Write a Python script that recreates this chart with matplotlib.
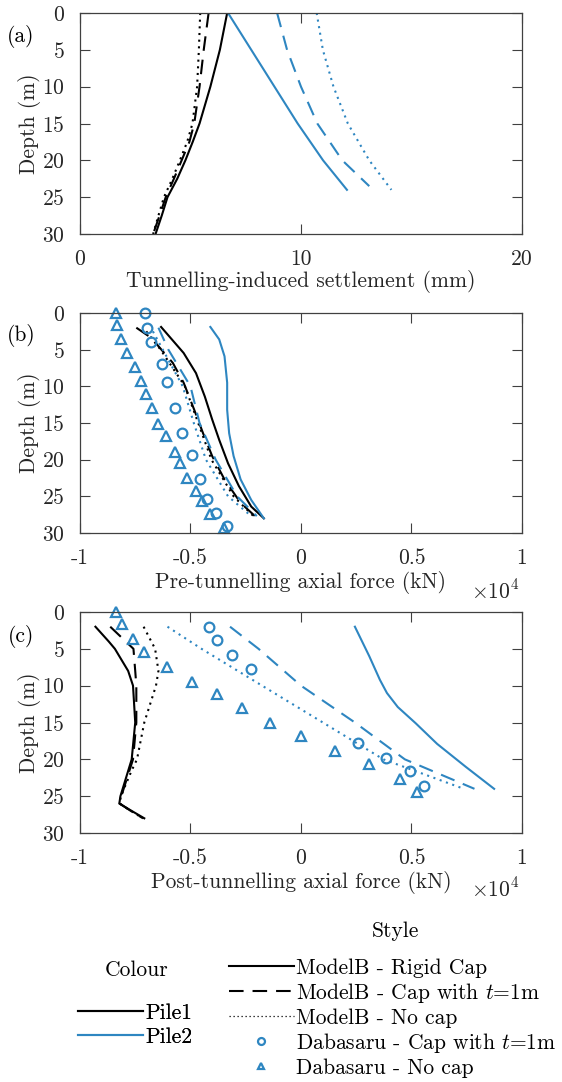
import numpy as np
import matplotlib
matplotlib.use('Agg')
from matplotlib import pyplot as plt
from matplotlib.lines import Line2D
from matplotlib.ticker import FuncFormatter

plt.rcParams['font.family'] = ['cmr10']
plt.rcParams['mathtext.fontset'] = 'cm'
plt.rcParams['axes.unicode_minus'] = False
plt.rcParams['axes.formatter.use_mathtext'] = True
FS = 15.5
plt.rcParams['font.size'] = FS

BLUE = '#2e86c1'
BLACK = 'black'
GREY = '#404040'
TXT = '#262626'

# ---- (a) settlement, mm ----
d_a1 = [0, 5, 10, 15, 17.5, 20, 22.5, 25, 27.5, 30]
set_rigid1 = [6.66, 6.33, 5.9, 5.41, 5.1, 4.77, 4.4, 3.96, 3.7, 3.42]
set_cap1 = [5.82, 5.6, 5.41, 5.17, 4.95, 4.6, 4.25, 3.88, 3.6, 3.31]
set_nocap1 = [5.44, 5.38, 5.3, 5.09, 4.85, 4.52, 4.18, 3.8, 3.55, 3.31]
d_a2 = [0, 5, 10, 15, 20, 24]
d_a2c = [0, 5, 10, 15, 20, 23.5]
set_rigid2 = [6.7, 7.75, 8.8, 9.85, 11.0, 12.08]
set_cap2 = [8.92, 9.37, 10.0, 10.74, 11.87, 13.09]
set_nocap2 = [10.71, 10.99, 11.47, 12.12, 13.09, 14.09]

# ---- (b) pre-tunnelling axial force, kN ----
d_b_rigid1 = [1.9, 5.45, 8.2, 11.4, 14.5, 17.3, 20.5, 23.6, 26.4, 28]
pre_rigid1 = [-6330, -5310, -4750, -4350, -4020, -3700, -3300, -2810, -2250, -1680]
d_b_cap1 = [2, 3.4, 6.8, 9.5, 13.2, 16.4, 19.5, 22.7, 25.9, 27.7]
pre_cap1 = [-7450, -6770, -5800, -5310, -4830, -4430, -4020, -3460, -2730, -2080]
d_b_nocap1 = [2.5, 5, 10, 15, 20, 25, 27.7]
pre_nocap1 = [-7000, -6350, -5250, -4650, -4050, -3050, -2150]
d_b_rigid2 = [1.9, 3.6, 5.9, 9.5, 13.2, 16.4, 19.5, 22.7, 25.5, 28]
pre_rigid2 = [-4100, -3700, -3460, -3340, -3340, -3250, -3050, -2730, -2250, -1680]
d_b_cap2 = [2, 5, 10, 15, 20, 25, 27.7]
pre_cap2 = [-6450, -6000, -5000, -4590, -3860, -2890, -2000]
d_b_nocap2 = [2.5, 5, 10, 15, 20, 25, 27.7]
pre_nocap2 = [-6700, -6250, -5350, -4850, -4300, -3300, -2250]
d_b_circ = [0, 2.0, 4.0, 7.0, 9.4, 12.9, 16.4, 19.3, 22.7, 25.3, 27.3, 29.1]
pre_circ = [-7060, -6960, -6770, -6280, -6070, -5720, -5400, -4930, -4560, -4230, -3860, -3340]
d_b_tri = [0, 1.7, 3.6, 5.4, 7.4, 9.3, 11.0, 13.0, 15.1, 16.8, 18.9, 20.5, 22.5, 24.3, 25.6, 27.4, 29.3]
pre_tri = [-8380, -8340, -8140, -7870, -7530, -7250, -7010, -6720, -6450, -6090, -5720, -5480,
           -5150, -4750, -4480, -4100, -3500]

# ---- (c) post-tunnelling axial force, kN ----
d_c_rigid1 = [2, 4, 5, 8, 10, 15, 20, 25, 26, 27, 28]
post_rigid1 = [-9300, -8700, -8420, -7820, -7600, -7500, -7660, -8170, -8220, -7660, -7090]
d_c_cap1 = [2, 5, 8, 10, 15, 20, 25, 26, 27, 28]
post_cap1 = [-8630, -7580, -7500, -7450, -7450, -7600, -8130, -8200, -7700, -7150]
d_c_nocap1 = [2, 5, 8, 10, 15, 20, 21.5, 25, 26, 27, 28]
post_nocap1 = [-7120, -6600, -6450, -6560, -7090, -7420, -7660, -8150, -8200, -7700, -7150]
d_c_rigid2 = [2, 6, 9.2, 11, 12.9, 15.1, 17.9, 21, 24]
post_rigid2 = [2440, 3090, 3570, 3890, 4380, 5190, 6160, 7450, 8740]
d_c_cap2 = [2, 5, 10, 15, 20, 24]
post_cap2 = [-3210, -1920, 0, 2440, 4700, 7850]
d_c_nocap2 = [2, 5, 10, 15, 20, 24]
post_nocap2 = [-6040, -4500, -1760, 990, 3730, 7370]
d_c_circ = [2.0, 3.8, 5.8, 7.8, 17.8, 19.8, 21.6, 23.6]
post_circ = [-4180, -3810, -3130, -2250, 2570, 3860, 4940, 5560]
d_c_tri = [0, 1.6, 3.6, 5.4, 7.5, 9.5, 11.1, 13.0, 15.0, 16.8, 18.9, 20.6, 22.6, 24.4]
post_tri = [-8380, -8110, -7620, -7120, -6070, -4910, -3810, -2680, -1410, 0, 1520, 3090, 4500, 5270]

DASH = (0, (7, 4.3))
DOT = (0, (1, 2.2))
LW = 1.5


def style_axes(ax, xlim, xticks, fmt):
    ax.set_xlim(*xlim)
    ax.set_ylim(30, 0)
    ax.set_xticks(xticks)
    ax.set_yticks(range(0, 31, 5))
    ax.xaxis.set_major_formatter(FuncFormatter(fmt))
    ax.tick_params(direction='in', length=7, width=0.8, top=True, right=True,
                   colors=GREY, labelcolor=TXT, labelsize=FS, pad=11)
    for s in ax.spines.values():
        s.set_color(GREY)
        s.set_linewidth(0.9)
    ax.set_ylabel('Depth (m)', color=TXT, labelpad=1)


fig = plt.figure(figsize=(5.62, 10.82), dpi=100)
axa = fig.add_axes([0.1423, 0.7837, 0.7865, 0.2043])
axb = fig.add_axes([0.1423, 0.5074, 0.7865, 0.2033])
axc = fig.add_axes([0.1423, 0.2301, 0.7865, 0.2043])

# (a)
axa.plot(set_rigid1, d_a1, color=BLACK, lw=LW)
axa.plot(set_cap1, d_a1, color=BLACK, lw=LW, ls=DASH)
axa.plot(set_nocap1, d_a1, color=BLACK, lw=LW, ls=DOT)
axa.plot(set_rigid2, d_a2, color=BLUE, lw=LW)
axa.plot(set_cap2, d_a2c, color=BLUE, lw=LW, ls=DASH)
axa.plot(set_nocap2, d_a2, color=BLUE, lw=LW, ls=DOT)
style_axes(axa, (0, 20), [0, 10, 20], lambda v, p: '%g' % v)
axa.set_xlabel('Tunnelling-induced settlement (mm)', color=TXT, labelpad=1)

mk = dict(ls='none', color=BLUE, mfc='none', mew=1.6, ms=7, clip_on=False)

# (b)
axb.plot(pre_rigid1, d_b_rigid1, color=BLACK, lw=LW)
axb.plot(pre_cap1, d_b_cap1, color=BLACK, lw=LW, ls=DASH)
axb.plot(pre_nocap1, d_b_nocap1, color=BLACK, lw=LW, ls=DOT)
axb.plot(pre_rigid2, d_b_rigid2, color=BLUE, lw=LW)
axb.plot(pre_cap2, d_b_cap2, color=BLUE, lw=LW, ls=DASH)
axb.plot(pre_nocap2, d_b_nocap2, color=BLUE, lw=LW, ls=DOT)
axb.plot(pre_circ, d_b_circ, marker='o', **mk)
axb.plot(pre_tri, d_b_tri, marker='^', **mk)
style_axes(axb, (-1e4, 1e4), [-1e4, -5e3, 0, 5e3, 1e4], lambda v, p: '%g' % (v / 1e4))
axb.set_xlabel('Pre-tunnelling axial force (kN)', color=TXT, labelpad=2)
axb.text(0.995, -0.26, r'$\times10^4$', transform=axb.transAxes, ha='right', va='center',
         color=TXT, fontsize=FS)

# (c)
axc.plot(post_rigid1, d_c_rigid1, color=BLACK, lw=LW)
axc.plot(post_cap1, d_c_cap1, color=BLACK, lw=LW, ls=DASH)
axc.plot(post_nocap1, d_c_nocap1, color=BLACK, lw=LW, ls=DOT)
axc.plot(post_rigid2, d_c_rigid2, color=BLUE, lw=LW)
axc.plot(post_cap2, d_c_cap2, color=BLUE, lw=LW, ls=DASH)
axc.plot(post_nocap2, d_c_nocap2, color=BLUE, lw=LW, ls=DOT)
axc.plot(post_circ, d_c_circ, marker='o', **mk)
axc.plot(post_tri, d_c_tri, marker='^', **mk)
style_axes(axc, (-1e4, 1e4), [-1e4, -5e3, 0, 5e3, 1e4], lambda v, p: '%g' % (v / 1e4))
axc.set_xlabel('Post-tunnelling axial force (kN)', color=TXT, labelpad=2)
axc.text(0.995, -0.25, r'$\times10^4$', transform=axc.transAxes, ha='right', va='center',
         color=TXT, fontsize=FS)

for lab, y in [('(a)', 37), ('(b)', 336), ('(c)', 636)]:
    fig.text(21 / 562, 1 - y / 1082, lab, ha='center', va='center', fontsize=FS)

# legends (titles as separate text, extra gap under them like the original)
fig.text(137 / 562, 1 - 970 / 1082, 'Colour', ha='center', va='center', fontsize=FS)
fig.text(395 / 562, 1 - 931 / 1082, 'Style', ha='center', va='center', fontsize=FS)

colour_h = [Line2D([], [], color=BLACK, lw=LW), Line2D([], [], color=BLUE, lw=LW)]
leg1 = fig.legend(colour_h, ['Pile1', 'Pile2'], frameon=False,
                  loc='center left', bbox_to_anchor=(78 / 562, 1 - 1025 / 1082),
                  handlelength=3.0, handletextpad=0.12, labelspacing=0.22, fontsize=FS,
                  borderpad=0, borderaxespad=0)
style_h = [Line2D([], [], color=BLACK, lw=LW),
           Line2D([], [], color=BLACK, lw=LW, ls=DASH),
           Line2D([], [], color=BLACK, lw=0.9, ls=DOT),
           Line2D([], [], marker='o', ls='none', color=BLUE, mfc='none', mew=1.6, ms=5),
           Line2D([], [], marker='^', ls='none', color=BLUE, mfc='none', mew=1.6, ms=5)]
style_l = ['ModelB - Rigid Cap', r'ModelB - Cap with $t$=1m', 'ModelB - No cap',
           r'Dabasaru - Cap with $t$=1m', 'Dabasaru - No cap']
leg2 = fig.legend(style_h, style_l, frameon=False,
                  loc='center left', bbox_to_anchor=(229 / 562, 1 - 1018 / 1082),
                  handlelength=3.0, handletextpad=0.12, labelspacing=0.15, fontsize=FS,
                  borderpad=0, borderaxespad=0)
fig.add_artist(leg1)

fig.savefig('out.png', dpi=100)
